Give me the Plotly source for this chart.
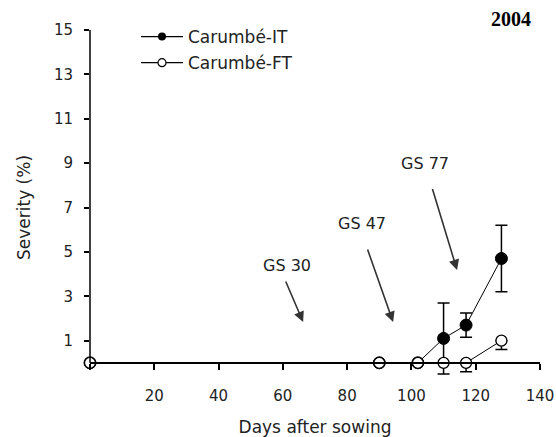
import plotly.graph_objects as go

days = [0, 90, 102, 110, 117, 128]
it_sev = [0, 0, 0, 1.1, 1.7, 4.7]
it_err = [0, 0, 0, 1.6, 0.55, 1.5]
ft_sev = [0, 0, 0, 0, 0, 1.0]
ft_err_minus = [0, 0, 0, 0, 0.4, 0.4]

x_ticks = [0, 20, 40, 60, 80, 100, 120, 140]
x_ticktext = ["", "20", "40", "60", "80", "100", "120", "140"]
y_ticks = [1, 3, 5, 7, 9, 11, 13, 15]

# growth stage annotations: label, arrow head (x,y), arrow tail (x,y), label pos (x,y)
gs_labels = ["GS 30", "GS 47", "GS 77"]
gs_head = [(66.3, 1.84), (94.3, 1.84), (114.2, 4.18)]
gs_tail = [(60.7, 3.73), (86.2, 5.17), (106.4, 7.9)]
gs_text = [(61.3, 4.4), (84.6, 6.27), (104.2, 9.0)]

Y_MIN, Y_MAX = -1, 15
PLOT_L, PLOT_T, PLOT_W, PLOT_H = 90, 29.5, 450, 355.7

fig = go.Figure()
fig.add_trace(go.Scatter(
    x=days, y=it_sev, name="Carumbé-IT", mode="lines+markers", showlegend=False,
    line=dict(color="black", width=1),
    marker=dict(symbol="circle", size=12, color="black", line=dict(color="black", width=1)),
    error_y=dict(type="data", array=it_err, visible=True, color="black", thickness=1.5, width=6),
    cliponaxis=False,
))
fig.add_trace(go.Scatter(
    x=days, y=ft_sev, name="Carumbé-FT", mode="lines+markers", showlegend=False,
    line=dict(color="black", width=1),
    marker=dict(symbol="circle", size=11, color="white", line=dict(color="black", width=1.3)),
    error_y=dict(type="data", symmetric=False, array=[0] * len(days), arrayminus=ft_err_minus,
                 visible=True, color="black", thickness=1.5, width=6),
    cliponaxis=False,
))
# legend-only entries (smaller symbols as in the original legend)
fig.add_trace(go.Scatter(
    x=[None], y=[None], name="Carumbé-IT", mode="lines+markers", legendgroup="a",
    line=dict(color="black", width=1.3),
    marker=dict(symbol="circle", size=8, color="black"),
))
fig.add_trace(go.Scatter(
    x=[None], y=[None], name="Carumbé-FT", mode="lines+markers", legendgroup="b",
    line=dict(color="black", width=1.3),
    marker=dict(symbol="circle", size=8, color="white", line=dict(color="black", width=1.2)),
))

for lab, h, t, p in zip(gs_labels, gs_head, gs_tail, gs_text):
    fig.add_annotation(x=h[0], y=h[1], ax=t[0], ay=t[1], xref="x", yref="y",
                       axref="x", ayref="y", text="", showarrow=True,
                       arrowhead=2, arrowsize=1.3, arrowwidth=1.6, arrowcolor="#333333")
    fig.add_annotation(x=p[0], y=p[1], xref="x", yref="y", text=lab, showarrow=False,
                       font=dict(family="DejaVu Sans", size=16, color="#222222"))

fig.add_annotation(x=(511 - PLOT_L) / PLOT_W, y=1 + (PLOT_T - 18) / PLOT_H,
                   xref="paper", yref="paper", text="<b>2004</b>",
                   showarrow=False, xanchor="center", yanchor="middle",
                   font=dict(family="Liberation Serif", size=20, color="black"))

# y axis line only from 0 upward
fig.add_shape(type="line", xref="paper", yref="y domain", x0=0, x1=0,
              y0=(0 - Y_MIN) / (Y_MAX - Y_MIN), y1=1, line=dict(color="black", width=1.5))

tick_font = dict(family="DejaVu Sans", size=15, color="#222222")
title_font = dict(family="DejaVu Sans", size=17, color="#222222")
fig.update_layout(
    width=556, height=437,
    margin=dict(l=PLOT_L, r=556 - PLOT_L - PLOT_W, t=PLOT_T, b=437 - PLOT_T - PLOT_H,
                autoexpand=False),
    paper_bgcolor="white", plot_bgcolor="white",
    showlegend=True,
    legend=dict(x=(136 - PLOT_L) / PLOT_W, y=1 + 11 / PLOT_H, xanchor="left", yanchor="top",
                bgcolor="rgba(0,0,0,0)", font=dict(family="DejaVu Sans", size=17, color="#222222"),
                itemwidth=42, tracegroupgap=1),
    xaxis=dict(range=[0, 140], tickvals=x_ticks, ticktext=x_ticktext, ticks="outside",
               ticklen=6, tickwidth=1.5, tickcolor="black", showline=True, linecolor="black",
               linewidth=1.5, anchor="free", position=(0 - Y_MIN) / (Y_MAX - Y_MIN),
               showgrid=False, zeroline=False, tickfont=tick_font, ticklabelstandoff=13,
               title=dict(text="Days after sowing", font=title_font, standoff=20)),
    yaxis=dict(range=[Y_MIN, Y_MAX], tickvals=y_ticks, ticks="outside", ticklen=5, tickwidth=1.5,
               tickcolor="black", showline=False,
               showgrid=False, zeroline=False, tickfont=tick_font, ticklabelstandoff=8,
               title=dict(text="Severity (%)", font=title_font, standoff=18)),
)

fig.write_html("out.html")
